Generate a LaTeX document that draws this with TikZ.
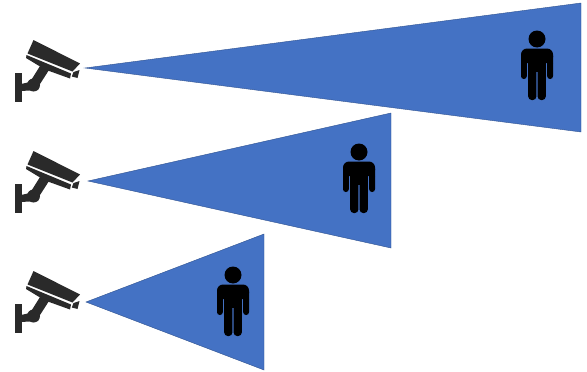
\documentclass[tikz,border=0pt]{standalone}
\usepackage{xcolor}
\usepackage{tikz}
\definecolor{conefill}{HTML}{4472C4}
\definecolor{coneline}{HTML}{2F528F}
\definecolor{iconblack}{HTML}{2A2A2A}
\tikzset{
  cone/.style={fill=conefill,draw=coneline,line width=0.4pt},
  camera/.pic={
    % body
    \fill[iconblack] (33.5,40) -- (80,63.5) -- (72.5,71.5) -- (27.5,53.5) -- cycle;
    % lower strip
    \fill[iconblack] (26.5,55) -- (71,73.5) -- (70,78.5) -- (45,69.5) -- (26,58) -- cycle;
    % lens
    \fill[iconblack] (73.5,72) -- (79.5,70) -- (77.5,78) -- (71.8,76.5) -- cycle;
    % arm
    \fill[iconblack] (40,66) -- (49,70) -- (40,84) -- (38,90) -- (21,91) -- (21,84) -- (30,82) -- cycle;
    \fill[iconblack] (33.5,85) circle (6.5);
    % wall plate
    \fill[iconblack] (14.5,73) -- (21.8,73) -- (21.8,101.5) -- (14.5,101.5) -- cycle;
  },
  person/.pic={
    \fill[black] (0,0) circle (8.5);
    \fill[black,rounded corners=6pt] (-16,9.5) -- (16,9.5) -- (16,24) -- (10,24) -- (-10,24) -- (-16,24) -- cycle;
    \fill[black,rounded corners=2.8pt] (-16,14) -- (-10.2,14) -- (-10.2,40) -- (-16,40) -- cycle;
    \fill[black,rounded corners=2.8pt] (16,14) -- (10.2,14) -- (10.2,40) -- (16,40) -- cycle;
    \fill[black,rounded corners=3.5pt] (-8.8,14) -- (-0.6,14) -- (-0.6,61) -- (-8.8,61) -- cycle;
    \fill[black,rounded corners=3.5pt] (8.8,14) -- (0.6,14) -- (0.6,61) -- (8.8,61) -- cycle;
    \fill[black] (-8.8,14) rectangle (8.8,33);
  }
}
\begin{document}
\begin{tikzpicture}[x=1pt,y=-1pt]
\useasboundingbox (0,0) rectangle (587,372);

% Cones
\draw[cone] (85,68) -- (581,3) -- (581,132) -- cycle;
\draw[cone] (88,181) -- (391,113) -- (391,248) -- cycle;
\draw[cone] (86,302) -- (264,234) -- (264,370) -- cycle;

% Cameras
\pic at (0,0) {camera};
\pic at (0,111) {camera};
\pic at (0,231) {camera};

% People
\pic at (537,39) {person};
\pic at (359,152) {person};
\pic at (233,275) {person};

\end{tikzpicture}
\end{document}
